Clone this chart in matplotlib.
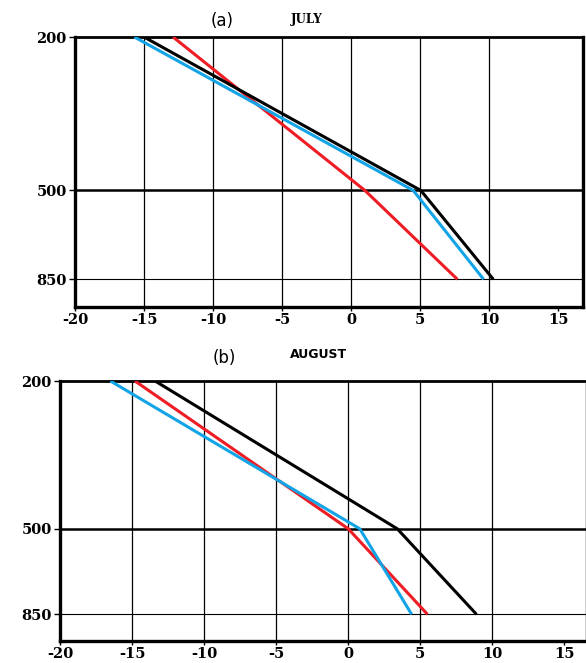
import matplotlib
matplotlib.use("Agg")
import matplotlib.pyplot as plt
import numpy as np

plt.rcParams['axes.unicode_minus'] = False

# pressure levels (hPa) and temperatures (deg C)
levels = [200, 500, 850]
july_black = [-15.0, 5.05, 10.3]
july_blue = [-15.7, 4.5, 9.6]
july_red = [-12.9, 1.0, 7.7]
aug_black = [-13.4, 3.4, 8.9]
aug_red = [-14.8, 0.0, 5.5]
aug_blue = [-16.5, 0.8, 4.4]

xticks = [-20, -15, -10, -5, 0, 5, 10, 15]
xgrid = [-15, -10, -5, 0, 5, 10]
yticks = [200, 500, 850]

RED = '#ee1c24'
BLUE = '#12a4e6'

W, H = 586, 663


def make_panel(fig, box, xmax, series, right_lw):
    # box in pixels: left, top, right, bottom
    l, t, r, b = box
    ax = fig.add_axes([l / W, 1 - b / H, (r - l) / W, (b - t) / H])
    ax.set_yscale('log')
    ax.set_ylim(1003, 200)
    ax.set_xlim(-20, xmax)
    for xg in xgrid:
        ax.axvline(xg, color='k', lw=0.9, zorder=1)
    ax.axhline(500, color='k', lw=1.8, zorder=1)
    ax.axhline(850, color='k', lw=0.8, zorder=1)
    for vals, col in series:
        ax.plot(vals, levels, color=col, lw=2.2, zorder=3, solid_capstyle='butt')
    ax.set_yticks(yticks)
    ax.set_yticklabels([str(v) for v in yticks])
    ax.yaxis.set_minor_locator(matplotlib.ticker.NullLocator())
    ax.set_xticks(xticks)
    ax.set_xticklabels([str(v) for v in xticks])
    ax.tick_params(axis='y', direction='out', length=4, width=1, pad=2)
    ax.tick_params(axis='x', direction='out', length=3, width=1, pad=1)
    for lab in ax.get_xticklabels() + ax.get_yticklabels():
        lab.set_fontfamily('DejaVu Serif')
        lab.set_fontweight('bold')
        lab.set_fontsize(10.5)
    ax.spines['left'].set_linewidth(2.4)
    ax.spines['bottom'].set_linewidth(2.4)
    ax.spines['top'].set_linewidth(2.0)
    ax.spines['right'].set_linewidth(right_lw)
    return ax


fig = plt.figure(figsize=(W / 100, H / 100), dpi=100)

make_panel(fig, (75, 37, 583, 307), 16.8,
           [(july_red, RED), (july_blue, BLUE), (july_black, 'k')], 2.4)
make_panel(fig, (60, 381, 586, 641), 16.5,
           [(aug_black, 'k'), (aug_red, RED), (aug_blue, BLUE)], 1.0)

fig.text(222 / W, 1 - 21 / H, '(a)', ha='center', va='center',
         fontsize=12, family='DejaVu Sans')
fig.text(307 / W, 1 - 20 / H, 'JULY', ha='center', va='center',
         fontsize=8.5, family='DejaVu Serif', fontweight='bold')
fig.text(224 / W, 1 - 358 / H, '(b)', ha='center', va='center',
         fontsize=12, family='DejaVu Sans')
fig.text(319 / W, 1 - 355 / H, 'AUGUST', ha='center', va='center',
         fontsize=9, family='DejaVu Sans', fontweight='bold')

fig.savefig('out.png', dpi=100)
